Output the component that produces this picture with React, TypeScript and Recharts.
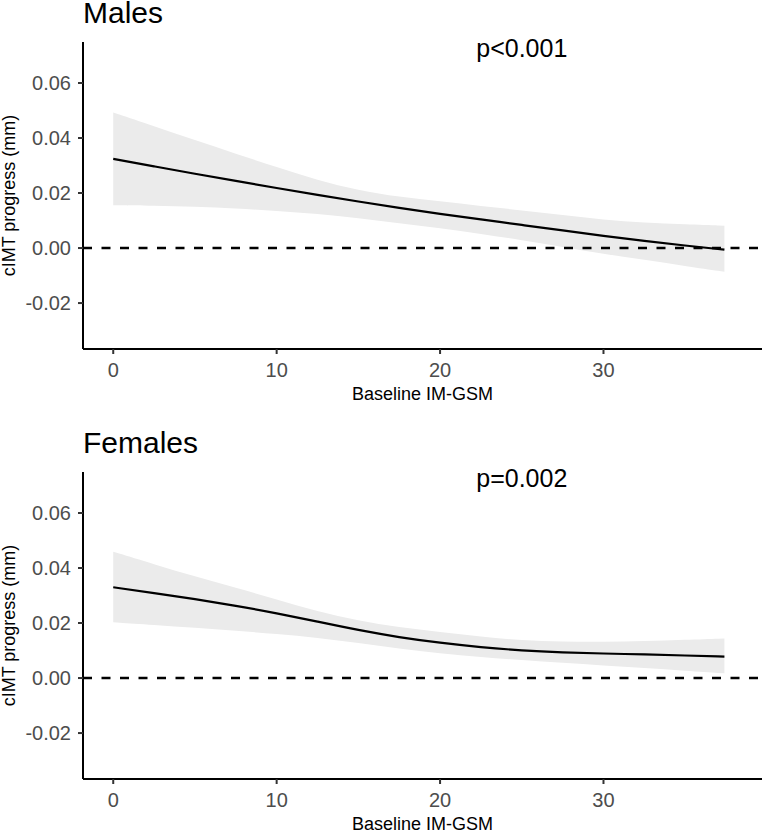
import React from 'react';
import { ComposedChart, Area, Line, XAxis, YAxis, ReferenceLine, ReferenceDot } from 'recharts';

const xValues = [0, 2.5, 5, 7.5, 10, 12.5, 15, 17.5, 20, 22.5, 25, 27.5, 30, 32.5, 35, 37.4];

const malesFit = [0.0324, 0.0297, 0.027, 0.0244, 0.0218, 0.0193, 0.0169, 0.0146, 0.0124, 0.0104, 0.0084, 0.0064, 0.0044, 0.0026, 0.0009, -0.0006];
const malesUpper = [0.0493, 0.0443, 0.0393, 0.0343, 0.0294, 0.0247, 0.021, 0.0186, 0.017, 0.0153, 0.0137, 0.012, 0.0103, 0.0092, 0.0086, 0.0081];
const malesLower = [0.0156, 0.0154, 0.015, 0.0144, 0.0135, 0.0124, 0.0109, 0.009, 0.0072, 0.0051, 0.0029, 0.0004, -0.0021, -0.0043, -0.0065, -0.0086];

const femalesFit = [0.033, 0.0309, 0.0287, 0.0263, 0.0236, 0.0205, 0.0174, 0.0148, 0.0128, 0.0112, 0.01, 0.0093, 0.0089, 0.0086, 0.0082, 0.0078];
const femalesUpper = [0.0459, 0.0414, 0.0369, 0.0328, 0.0286, 0.0242, 0.0208, 0.0184, 0.0167, 0.015, 0.0137, 0.0132, 0.0131, 0.0134, 0.0139, 0.0144];
const femalesLower = [0.0203, 0.0193, 0.0183, 0.0172, 0.016, 0.0147, 0.0128, 0.0107, 0.0089, 0.0076, 0.0065, 0.0055, 0.0046, 0.0036, 0.0027, 0.0017];

const xTicks = [0, 10, 20, 30];
const yTicks = [-0.02, 0, 0.02, 0.04, 0.06];

const FONT = '"Liberation Sans", Arial, Helvetica, sans-serif';

function buildRows(fit: number[], lower: number[], upper: number[]) {
  return xValues.map((x, i) => ({ x, fit: fit[i], band: [lower[i], upper[i]] }));
}

function Panel({ title, pLabel, fit, lower, upper }: { title: string; pLabel: string; fit: number[]; lower: number[]; upper: number[] }) {
  const rows = buildRows(fit, lower, upper);
  return (
    <div style={{ position: 'relative', width: 762, height: 430 }}>
      <ComposedChart width={762} height={430} data={rows} margin={{ top: 42, right: 0, bottom: 0, left: 0 }}>
        <XAxis
          type="number"
          dataKey="x"
          domain={[-1.85, 39.7]}
          ticks={xTicks}
          allowDataOverflow
          height={81}
          tickSize={5}
          tickMargin={9}
          axisLine={{ stroke: '#000', strokeWidth: 2 }}
          tickLine={{ stroke: '#333', strokeWidth: 2 }}
          tick={{ fill: '#4D4D4D', fontSize: 20, fontFamily: FONT }}
          label={{ value: 'Baseline IM-GSM', position: 'insideTop', offset: 38, fill: '#000', fontSize: 18, fontFamily: FONT }}
        />
        <YAxis
          type="number"
          domain={[-0.0367, 0.0749]}
          ticks={yTicks}
          allowDataOverflow
          width={83}
          tickSize={5}
          tickMargin={7}
          tickFormatter={(v: number) => v.toFixed(2)}
          axisLine={{ stroke: '#000', strokeWidth: 2 }}
          tickLine={{ stroke: '#333', strokeWidth: 2 }}
          tick={{ fill: '#4D4D4D', fontSize: 20, fontFamily: FONT }}
          label={{ value: 'cIMT progress (mm)', angle: -90, position: 'insideLeft', offset: 9, fill: '#000', fontSize: 18, fontFamily: FONT, style: { textAnchor: 'middle' } }}
        />
        <Area
          type="basis"
          dataKey="band"
          stroke="none"
          fill="#EBEBEB"
          fillOpacity={1}
          isAnimationActive={false}
          dot={false}
          activeDot={false}
        />
        <ReferenceLine y={0} stroke="#000" strokeWidth={2.5} strokeDasharray="9 9.5" />
        <Line
          type="basis"
          dataKey="fit"
          stroke="#000"
          strokeWidth={2.2}
          dot={false}
          activeDot={false}
          isAnimationActive={false}
        />
        <ReferenceDot
          x={25}
          y={0.0725}
          r={0}
          fill="none"
          stroke="none"
          ifOverflow="visible"
          label={{ value: pLabel, position: 'center', fill: '#000', fontSize: 25, fontFamily: FONT }}
        />
      </ComposedChart>
      <div style={{ position: 'absolute', left: 83, top: 1, fontSize: 30, lineHeight: '24px', fontFamily: FONT, color: '#000', whiteSpace: 'nowrap' }}>
        {title}
      </div>
    </div>
  );
}

export default function App() {
  return (
    <div style={{ position: 'absolute', left: 0, top: 0, width: 762, height: 831, overflow: 'hidden', background: '#fff' }}>
      <Panel title="Males" pLabel="p<0.001" fit={malesFit} lower={malesLower} upper={malesUpper} />
      <Panel title="Females" pLabel="p=0.002" fit={femalesFit} lower={femalesLower} upper={femalesUpper} />
    </div>
  );
}
